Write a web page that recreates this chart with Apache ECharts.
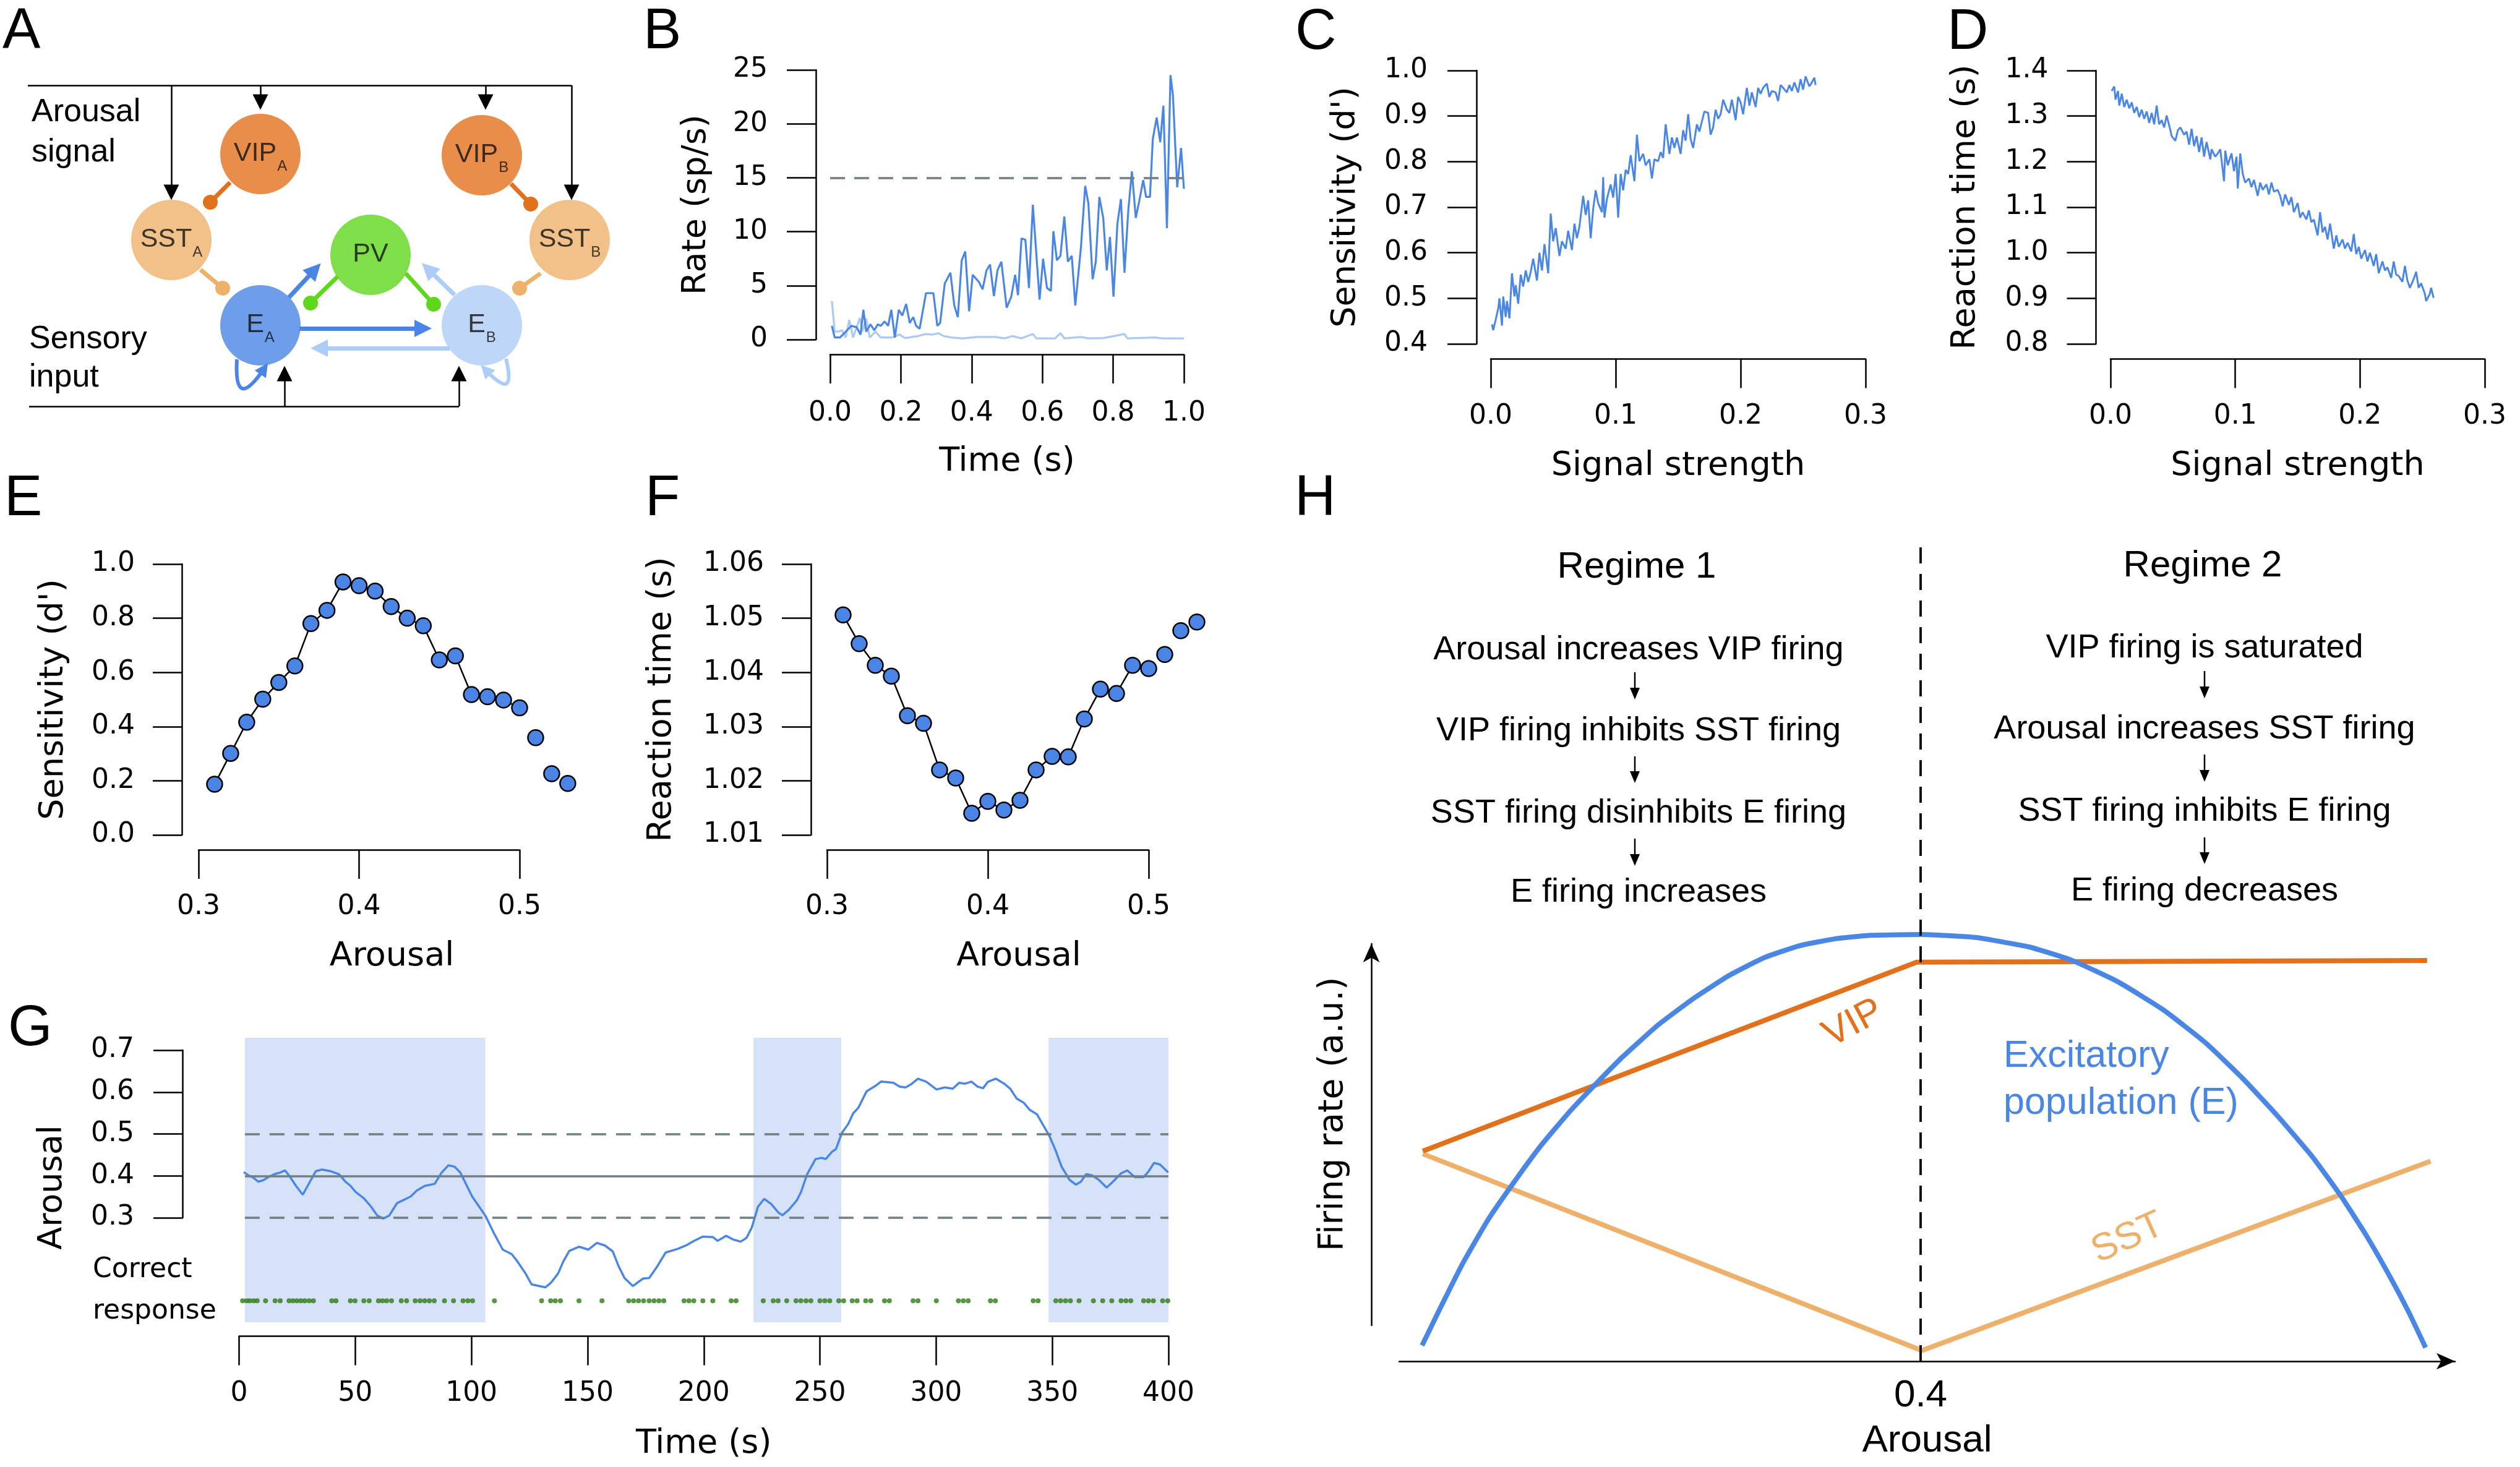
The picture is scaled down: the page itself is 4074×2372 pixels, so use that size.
<!DOCTYPE html>
<html><head><meta charset="utf-8">
<script src="https://cdn.jsdelivr.net/npm/echarts@6/dist/echarts.min.js"></script>
<style>html,body{margin:0;padding:0;background:#fff}#c{width:4074px;height:2372px}</style>
</head><body><div id="c"></div>
<script>
// ---------------- DATA ----------------
// Panel A: circuit nodes (diagram positions, px) and connections
const circuitNodes = [
  {name:'VIP', sub:'A', x:421, y:249, kind:'VIP'},
  {name:'VIP', sub:'B', x:779, y:251, kind:'VIP'},
  {name:'SST', sub:'A', x:277, y:388, kind:'SST'},
  {name:'SST', sub:'B', x:921, y:388, kind:'SST'},
  {name:'PV',  sub:'',  x:599, y:412, kind:'PV'},
  {name:'E',   sub:'A', x:421, y:526, kind:'EA'},
  {name:'E',   sub:'B', x:779, y:526, kind:'EB'}
];
const busLines = [[[45,138],[924,138]], [[47,657],[742,657]]];
const driveArrows = [[[277,138],[277,311]], [[421,138],[421,165]], [[785,138],[785,165]], [[924,138],[924,311]], [[460,657],[460,604]], [[742,657],[742,604]]];
const exciteArrows = [
  {from:[467,481], to:[509,436], kind:'EA'},
  {from:[735,477], to:[692,435], kind:'EB'},
  {from:[484,531], to:[684,531], kind:'EA'},
  {from:[727,563], to:[516,563], kind:'EB'}
];
const inhibitLinks = [
  {from:[372,295], to:[340,327], kind:'VIP'},
  {from:[826,297], to:[858,330], kind:'VIP'},
  {from:[324,436], to:[360,466], kind:'SST'},
  {from:[874,442], to:[840,466], kind:'SST'},
  {from:[546,447], to:[502,490], kind:'PV'},
  {from:[656,442], to:[701,492], kind:'PV'}
];
const selfLoopA = [[383,581],[427,596]];
const selfLoopB = [[818,580],[785,598]];

// Panel B
const bRateFast = [[0.005,1.27],[0.013,0.19],[0.028,0.19],[0.044,0.73],[0.060,1.27],[0.075,1.14],[0.086,0.46],[0.094,2.76],[0.102,0.73],[0.114,1.41],[0.125,0.86],[0.135,1.41],[0.143,1.27],[0.154,1.68],[0.164,1.27],[0.173,2.76],[0.183,0.19],[0.194,2.76],[0.204,2.22],[0.215,3.30],[0.225,1.54],[0.235,2.08],[0.243,1.27],[0.253,1.00],[0.271,4.30],[0.292,4.30],[0.303,1.27],[0.311,1.54],[0.324,5.19],[0.340,6.19],[0.351,3.16],[0.361,2.08],[0.372,7.35],[0.382,8.16],[0.393,2.62],[0.403,6.00],[0.421,5.32],[0.431,4.65],[0.442,6.41],[0.452,6.95],[0.463,4.03],[0.473,6.41],[0.484,7.22],[0.499,2.95],[0.512,3.97],[0.523,6.00],[0.531,4.11],[0.541,9.38],[0.552,9.24],[0.562,4.78],[0.573,12.49],[0.592,3.70],[0.602,7.49],[0.613,4.78],[0.624,4.51],[0.631,10.05],[0.641,7.35],[0.651,7.76],[0.662,11.41],[0.672,7.22],[0.683,7.76],[0.693,3.16],[0.709,8.57],[0.721,14.24],[0.730,12.62],[0.742,5.59],[0.751,7.22],[0.761,13.22],[0.772,11.27],[0.782,6.41],[0.791,9.51],[0.801,3.97],[0.812,10.73],[0.822,13.03],[0.832,6.19],[0.843,12.08],[0.853,15.59],[0.864,11.27],[0.874,12.89],[0.885,14.78],[0.893,13.22],[0.904,13.22],[0.912,18.57],[0.923,20.59],[0.933,18.30],[0.942,21.68],[0.952,10.32],[0.962,24.51],[0.969,22.62],[0.981,14.11],[0.992,17.76],[1.000,13.97]];
const bRateSlow = [[0.005,3.57],[0.013,0.73],[0.023,0.73],[0.034,0.86],[0.044,0.19],[0.054,1.81],[0.065,0.19],[0.084,2.0],[0.091,0.73],[0.102,1.95],[0.112,0.19],[0.128,0.73],[0.143,0.19],[0.175,0.19],[0.196,0.46],[0.212,0.14],[0.248,0.32],[0.269,0.51],[0.290,0.46],[0.306,0.59],[0.321,0.32],[0.342,0.19],[0.374,0.11],[0.416,0.24],[0.468,0.24],[0.494,0.11],[0.515,0.32],[0.541,0.11],[0.573,0.51],[0.583,0.11],[0.636,0.11],[0.651,0.59],[0.662,0.11],[0.709,0.24],[0.730,0.11],[0.772,0.14],[0.832,0.51],[0.840,0.11],[0.918,0.19],[0.939,0.11],[1.000,0.11]];
const bThreshold = 15;

// Panel C
const cSensitivity = [[0.001,0.443],[0.002,0.430],[0.004,0.453],[0.006,0.478],[0.007,0.500],[0.009,0.440],[0.010,0.504],[0.012,0.459],[0.013,0.494],[0.015,0.456],[0.017,0.555],[0.019,0.504],[0.020,0.529],[0.022,0.488],[0.024,0.552],[0.026,0.526],[0.028,0.561],[0.030,0.536],[0.032,0.558],[0.034,0.587],[0.037,0.539],[0.039,0.600],[0.041,0.561],[0.043,0.619],[0.046,0.555],[0.048,0.686],[0.050,0.625],[0.052,0.654],[0.055,0.593],[0.057,0.625],[0.060,0.609],[0.062,0.648],[0.065,0.606],[0.067,0.664],[0.069,0.632],[0.071,0.657],[0.074,0.725],[0.076,0.683],[0.078,0.715],[0.080,0.632],[0.082,0.696],[0.084,0.737],[0.086,0.709],[0.089,0.689],[0.090,0.766],[0.091,0.677],[0.093,0.718],[0.096,0.750],[0.098,0.721],[0.100,0.773],[0.102,0.677],[0.104,0.773],[0.106,0.737],[0.108,0.782],[0.110,0.773],[0.112,0.814],[0.115,0.757],[0.117,0.859],[0.119,0.801],[0.122,0.817],[0.124,0.792],[0.127,0.805],[0.129,0.763],[0.131,0.805],[0.134,0.801],[0.136,0.821],[0.138,0.808],[0.140,0.882],[0.143,0.817],[0.145,0.853],[0.147,0.830],[0.149,0.853],[0.152,0.817],[0.154,0.869],[0.156,0.846],[0.158,0.904],[0.160,0.850],[0.162,0.830],[0.165,0.882],[0.167,0.866],[0.169,0.888],[0.171,0.910],[0.174,0.907],[0.176,0.859],[0.178,0.875],[0.180,0.914],[0.182,0.894],[0.184,0.904],[0.186,0.936],[0.189,0.914],[0.191,0.907],[0.193,0.936],[0.196,0.891],[0.198,0.942],[0.200,0.930],[0.202,0.904],[0.205,0.962],[0.207,0.923],[0.209,0.952],[0.212,0.920],[0.214,0.962],[0.216,0.949],[0.218,0.962],[0.221,0.971],[0.223,0.942],[0.225,0.955],[0.228,0.952],[0.230,0.933],[0.232,0.968],[0.234,0.962],[0.237,0.952],[0.239,0.968],[0.241,0.955],[0.243,0.974],[0.246,0.952],[0.248,0.981],[0.250,0.958],[0.252,0.987],[0.255,0.965],[0.257,0.974],[0.259,0.984],[0.260,0.968]];

// Panel D
const dReaction = [[0.001,1.355],[0.003,1.365],[0.004,1.336],[0.006,1.355],[0.007,1.323],[0.009,1.349],[0.011,1.320],[0.013,1.336],[0.015,1.317],[0.017,1.330],[0.019,1.307],[0.021,1.320],[0.023,1.298],[0.025,1.314],[0.027,1.294],[0.029,1.310],[0.031,1.285],[0.033,1.307],[0.035,1.282],[0.037,1.323],[0.039,1.282],[0.041,1.291],[0.043,1.275],[0.045,1.301],[0.048,1.269],[0.049,1.256],[0.052,1.246],[0.054,1.269],[0.056,1.275],[0.059,1.259],[0.061,1.266],[0.063,1.237],[0.065,1.272],[0.067,1.234],[0.069,1.256],[0.071,1.221],[0.073,1.253],[0.075,1.211],[0.077,1.243],[0.080,1.205],[0.081,1.227],[0.084,1.211],[0.086,1.218],[0.088,1.227],[0.091,1.157],[0.092,1.224],[0.094,1.192],[0.097,1.218],[0.099,1.179],[0.101,1.211],[0.102,1.141],[0.104,1.218],[0.106,1.173],[0.108,1.154],[0.111,1.163],[0.113,1.144],[0.115,1.160],[0.118,1.125],[0.120,1.154],[0.122,1.138],[0.125,1.150],[0.127,1.128],[0.129,1.154],[0.131,1.134],[0.134,1.138],[0.136,1.125],[0.138,1.102],[0.140,1.128],[0.143,1.105],[0.145,1.122],[0.147,1.089],[0.150,1.109],[0.152,1.077],[0.154,1.089],[0.157,1.073],[0.159,1.093],[0.161,1.067],[0.163,1.073],[0.166,1.038],[0.168,1.089],[0.170,1.045],[0.172,1.057],[0.174,1.029],[0.176,1.064],[0.179,1.009],[0.181,1.038],[0.183,1.013],[0.186,1.029],[0.188,1.009],[0.190,1.022],[0.193,1.003],[0.195,1.041],[0.197,0.997],[0.199,1.013],[0.201,0.987],[0.204,1.006],[0.206,0.981],[0.208,1.000],[0.211,0.971],[0.213,0.997],[0.215,0.955],[0.218,0.981],[0.220,0.961],[0.222,0.968],[0.225,0.945],[0.227,0.981],[0.229,0.952],[0.231,0.949],[0.234,0.936],[0.236,0.971],[0.238,0.939],[0.240,0.923],[0.243,0.942],[0.245,0.958],[0.247,0.923],[0.249,0.933],[0.252,0.910],[0.253,0.894],[0.256,0.910],[0.257,0.923],[0.259,0.901]];

// Panels E, F
const arousalLevels = [0.31,0.32,0.33,0.34,0.35,0.36,0.37,0.38,0.39,0.40,0.41,0.42,0.43,0.44,0.45,0.46,0.47,0.48,0.49,0.50,0.51,0.52,0.53];
const eSensitivity = [0.187,0.301,0.416,0.501,0.563,0.624,0.780,0.829,0.934,0.920,0.900,0.843,0.800,0.772,0.646,0.661,0.518,0.510,0.498,0.469,0.359,0.226,0.190];
const fReaction = [1.0506,1.0453,1.0413,1.0393,1.0320,1.0306,1.0220,1.0205,1.0140,1.0162,1.0146,1.0164,1.0220,1.0245,1.0244,1.0314,1.0369,1.0361,1.0413,1.0407,1.0433,1.0477,1.0493];

// Panel G
const gTrace = [[2.0,0.409],[4.1,0.401],[5.8,0.397],[8.3,0.386],[10.6,0.390],[12.6,0.397],[15.2,0.404],[17.7,0.408],[19.8,0.413],[22.0,0.397],[24.5,0.376],[27.4,0.355],[30.5,0.386],[33.0,0.411],[35.6,0.415],[39.5,0.411],[43.0,0.404],[45.8,0.386],[48.0,0.376],[50.1,0.362],[53.8,0.346],[56.9,0.326],[59.5,0.305],[62.0,0.298],[64.6,0.305],[68.0,0.335],[71.4,0.344],[73.9,0.351],[76.5,0.365],[79.9,0.376],[84.2,0.381],[87.2,0.408],[90.1,0.425],[92.7,0.422],[95.2,0.408],[97.8,0.379],[100.3,0.351],[102.9,0.330],[106.0,0.305],[109.7,0.263],[113.5,0.224],[117.4,0.213],[119.9,0.195],[123.3,0.167],[125.9,0.141],[129.3,0.137],[131.9,0.134],[134.4,0.146],[137.3,0.167],[139.5,0.195],[142.1,0.221],[146.3,0.231],[150.3,0.224],[154.0,0.240],[157.4,0.234],[160.8,0.220],[163.3,0.185],[165.9,0.156],[169.5,0.137],[173.9,0.155],[176.5,0.156],[180.1,0.185],[183.6,0.217],[188.9,0.226],[192.4,0.234],[195.9,0.245],[199.5,0.255],[203.9,0.254],[206.0,0.245],[209.6,0.257],[212.7,0.248],[215.9,0.243],[218.4,0.252],[220.7,0.277],[223.3,0.326],[226.0,0.345],[229.0,0.333],[232.2,0.312],[233.9,0.306],[236.6,0.319],[240.1,0.342],[241.9,0.362],[244.5,0.404],[248.1,0.440],[250.7,0.443],[252.5,0.440],[255.1,0.457],[256.9,0.464],[259.5,0.503],[262.2,0.524],[264.3,0.549],[266.6,0.563],[270.1,0.602],[274.5,0.617],[276.3,0.625],[281.6,0.622],[284.3,0.613],[286.9,0.611],[289.6,0.620],[292.2,0.632],[295.7,0.625],[300.2,0.606],[303.7,0.611],[307.2,0.608],[309.9,0.622],[312.5,0.620],[315.2,0.625],[317.8,0.613],[320.2,0.609],[322.2,0.624],[325.7,0.632],[329.3,0.620],[331.9,0.608],[334.6,0.585],[337.8,0.574],[340.2,0.558],[343.4,0.547],[346.1,0.521],[348.7,0.496],[351.4,0.461],[354.0,0.422],[357.5,0.390],[360.2,0.379],[362.3,0.386],[364.6,0.404],[367.2,0.401],[369.9,0.391],[373.4,0.372],[376.1,0.386],[379.6,0.406],[382.3,0.413],[385.5,0.397],[389.3,0.397],[391.5,0.411],[393.8,0.431],[396.4,0.427],[399.9,0.408]];
const gCorrectTimes = [1.5,3.2,4.6,6.3,7.8,11.4,15.5,17.7,21.5,23.2,24.9,26.6,28.3,30.2,32.0,39.9,41.7,47.9,49.9,53.7,56.0,60.0,61.7,63.5,65.6,69.8,72.1,75.8,77.9,79.9,81.9,84.0,88.4,92.3,96.4,98.5,100.5,109.9,130.2,134.1,136.1,138.3,146.3,156.2,167.7,169.8,171.9,174.1,176.5,178.6,180.7,182.8,191.5,193.6,195.7,199.6,203.9,211.8,213.9,225.6,229.9,232.0,235.7,239.7,241.8,244.0,246.1,250.0,252.1,254.2,258.1,260.2,263.9,266.0,269.7,271.9,277.8,279.9,290.1,292.2,300.1,309.6,311.7,313.8,323.4,325.5,341.8,343.9,351.5,353.6,355.7,357.8,361.5,367.7,371.7,375.6,379.6,381.7,383.8,389.3,391.4,393.5,397.5,399.7];
const gCorrectLevel = 0.102;
const gShaded = [[2.5,106],[221.4,259.2],[348.4,400]];
const gOptimum = 0.4, gBand = [0.3, 0.5];

// Panel H (schematic curves, arbitrary units)
const hExcitatory = [[0.1985,0.037],[0.2064,0.131],[0.2150,0.230],[0.2250,0.330],[0.2351,0.415],[0.2465,0.505],[0.2580,0.584],[0.2681,0.646],[0.2795,0.713],[0.2939,0.788],[0.3082,0.850],[0.3226,0.904],[0.3369,0.946],[0.3513,0.974],[0.3656,0.990],[0.3800,0.998],[0.4001,1.000],[0.4221,0.993],[0.4437,0.971],[0.4609,0.940],[0.4795,0.890],[0.4982,0.823],[0.5154,0.745],[0.5298,0.665],[0.5441,0.576],[0.5585,0.478],[0.5699,0.387],[0.5800,0.296],[0.5900,0.195],[0.5972,0.116],[0.6041,0.032]];
const hVIP = [[0.1988,0.4925],[0.3984,0.935],[0.6047,0.939]];
const hSST = [[0.1988,0.486],[0.4005,0.025],[0.6061,0.469]];
const hRegime1 = ['Arousal increases VIP firing','VIP firing inhibits SST firing','SST firing disinhibits E firing','E firing increases'];
const hRegime2 = ['VIP firing is saturated','Arousal increases SST firing','SST firing inhibits E firing','E firing decreases'];

// ---------------- STYLE ----------------
const DV = 'DejaVu Sans', LS = 'Liberation Sans';
const BLUE = '#4A86E3', LIGHT = '#ABC9F1', REF = '#6F7F82', SHADE = '#D6E2F7', GREEN = '#2F7A18';
const KC = {VIP:'#E2711D', SST:'#EDB16C', PV:'#5ED71D', EA:'#4A85E5', EB:'#AECDF6'};

function mkAxis(gi, min, max, step, offset, dec, margin, name, gap, namePad) {
  return {
    type:'value', gridIndex:gi, min:min, max:max, interval:step, offset:offset,
    axisLine:{show:true, onZero:false, lineStyle:{color:'#000', width:2.5}},
    axisTick:{show:true, inside:false, length:47, lineStyle:{color:'#000', width:2.5}},
    axisLabel:{show:true, margin:margin, color:'#000', fontFamily:DV, fontSize:44, hideOverlap:false,
               formatter: v => Number(v).toFixed(dec)},
    splitLine:{show:false},
    name:name, nameLocation:'middle', nameGap:gap, nameMoveOverlap:false,
    nameTextStyle:{color:'#000', fontFamily:DV, fontSize:54, padding: namePad || 0}
  };
}
function hidden(gi, min, max, inverse) {
  return {type:'value', gridIndex:gi, min:min, max:max, inverse:!!inverse, show:false,
          axisLine:{show:false}, axisTick:{show:false}, axisLabel:{show:false}, splitLine:{show:false}};
}
function grid(l, t, w, h) { return {left:l, top:t, width:w, height:h, containLabel:false, outerBoundsMode:'none'}; }

const xAxes = [
  hidden(0, 0, 1240),
  mkAxis(1, 0, 1, 0.2, 24, 1, 74, 'Time (s)', 147),
  mkAxis(2, 0, 0.3, 0.1, 24.5, 1, 71, 'Signal strength', 146),
  mkAxis(3, 0, 0.3, 0.1, 24.5, 1, 71, 'Signal strength', 146),
  mkAxis(4, 0.3, 0.5, 0.1, 24, 1, 71, 'Arousal', 146, [0,0,0,106]),
  mkAxis(5, 0.3, 0.5, 0.1, 24, 1, 71, 'Arousal', 146, [0,0,0,100]),
  mkAxis(6, 0, 400, 50, 22.5, 0, 71, 'Time (s)', 147),
  hidden(7, 0, 1),
  {type:'value', gridIndex:8, min:0.18925, max:0.616,
   axisLine:{show:true, onZero:false, symbol:['none','arrow'], symbolSize:[20,30], lineStyle:{color:'#000', width:2.5}},
   axisTick:{show:false}, splitLine:{show:false},
   axisLabel:{show:true, customValues:[0.4], formatter: v => Number(v).toFixed(1), margin:25, fontFamily:LS, fontSize:62, color:'#000'},
   name:'Arousal', nameLocation:'middle', nameGap:98, nameMoveOverlap:false,
   nameTextStyle:{fontFamily:LS, fontSize:62, color:'#000'}},
  hidden(9, 0, 1)
];
const yAxes = [
  hidden(0, 0, 680, true),
  mkAxis(1, 0, 25, 5, 23, 0, 78, 'Rate (sp/s)', 166),
  mkAxis(2, 0.4, 1.0, 0.1, 23, 1, 79, "Sensitivity (d')", 184),
  mkAxis(3, 0.8, 1.4, 0.1, 23.5, 1, 77, 'Reaction time (s)', 184),
  mkAxis(4, 0, 1, 0.2, 27, 1, 76, "Sensitivity (d')", 180),
  mkAxis(5, 1.01, 1.06, 0.01, 26, 2, 76, 'Reaction time (s)', 214),
  hidden(6, 0.0506, 0.7295),
  mkAxis(7, 0.3, 0.7, 0.1, 0, 1, 78, '', 0),
  hidden(8, 0, 1.9275),
  {type:'value', gridIndex:9, min:0, max:1,
   axisLine:{show:true, onZero:false, symbol:['none','arrow'], symbolSize:[20,30], lineStyle:{color:'#000', width:2.5}},
   axisTick:{show:false}, axisLabel:{show:false}, splitLine:{show:false},
   name:'Firing rate (a.u.)', nameLocation:'middle', nameGap:34, nameMoveOverlap:false,
   nameTextStyle:{fontFamily:DV, fontSize:55, color:'#000', padding:[0,0,0,66]}}
];
const grids = [
  grid(0, 0, 1240, 680),
  grid(1342, 113, 572, 436),
  grid(2410, 114, 606, 442),
  grid(3412, 114, 605, 442),
  grid(321, 912, 519, 438),
  grid(1337, 912, 520, 438),
  grid(386.5, 1678, 1502.5, 460),
  grid(295, 1698, 10, 271),
  grid(2262, 871, 1707, 1330),
  grid(2217, 1526, 10, 617)
];

// ---------------- SERIES ----------------
const A = {xAxisIndex:0, yAxisIndex:0};
const series = [];
// Panel A
series.push(Object.assign({type:'lines', coordinateSystem:'cartesian2d', silent:true, z:3, symbol:['none','none'],
  lineStyle:{color:'#000', width:2.5, opacity:1}, data: busLines.map(c => ({coords:c}))}, A));
series.push(Object.assign({type:'lines', coordinateSystem:'cartesian2d', silent:true, z:3, symbol:['none','triangle'], symbolSize:25,
  lineStyle:{color:'#000', width:2.5, opacity:1}, data: driveArrows.map(c => ({coords:c}))}, A));
series.push(Object.assign({type:'lines', coordinateSystem:'cartesian2d', silent:true, z:3, symbol:['none','triangle'], symbolSize:28,
  lineStyle:{width:7, opacity:1}, data: exciteArrows.map(e => ({coords:[e.from, e.to], lineStyle:{color:KC[e.kind], width:7, opacity:1}}))}, A));
series.push(Object.assign({type:'lines', coordinateSystem:'cartesian2d', silent:true, z:3, symbol:['none','circle'], symbolSize:24,
  lineStyle:{width:7, opacity:1}, data: inhibitLinks.map(e => ({coords:[e.from, e.to], lineStyle:{color:KC[e.kind], width:7, opacity:1}}))}, A));
series.push(Object.assign({type:'lines', coordinateSystem:'cartesian2d', silent:true, z:3, symbol:['none','triangle'], symbolSize:22,
  lineStyle:{color:KC.EA, width:6, opacity:1, curveness:-1.8}, data:[{coords:selfLoopA}]}, A));
series.push(Object.assign({type:'lines', coordinateSystem:'cartesian2d', silent:true, z:3, symbol:['none','triangle'], symbolSize:22,
  lineStyle:{color:KC.EB, width:6, opacity:1, curveness:1.9}, data:[{coords:selfLoopB}]}, A));
series.push(Object.assign({type:'scatter', silent:true, z:5, symbolSize:130,
  data: circuitNodes.map(n => ({value:[n.x, n.y], itemStyle:{color:KC[n.kind]},
    label:{show:true, position:'inside', formatter: n.sub ? '{m|' + n.name + '}{s|' + n.sub + '}' : '{m|' + n.name + '}'}})),
  label:{show:true, position:'inside', rich:{
    m:{fontFamily:LS, fontSize:43, color:'#111', lineHeight:44, verticalAlign:'top'},
    s:{fontFamily:LS, fontSize:24, color:'#111', lineHeight:24, verticalAlign:'top', padding:[30,0,0,1]}}}}, A));

// Panel B
series.push({type:'line', xAxisIndex:1, yAxisIndex:1, data:bRateSlow, symbol:'none', z:2, lineStyle:{color:LIGHT, width:3.2}});
series.push({type:'line', xAxisIndex:1, yAxisIndex:1, data:bRateFast, symbol:'none', z:3, lineStyle:{color:BLUE, width:3.2},
  markLine:{silent:true, symbol:['none','none'], label:{show:false}, lineStyle:{color:REF, type:[24,15], width:3.5},
    data:[[{coord:[0, bThreshold]}, {coord:[1, bThreshold]}]]}});
// Panel C, D
series.push({type:'line', xAxisIndex:2, yAxisIndex:2, data:cSensitivity, symbol:'none', lineStyle:{color:BLUE, width:3}});
series.push({type:'line', xAxisIndex:3, yAxisIndex:3, data:dReaction, symbol:'none', lineStyle:{color:BLUE, width:3}});
// Panel E, F
const dotStyle = {color:KC.EA, borderColor:'#000', borderWidth:2.5};
series.push({type:'line', xAxisIndex:4, yAxisIndex:4, clip:false, data: arousalLevels.map((a,i) => [a, eSensitivity[i]]),
  symbol:'circle', symbolSize:25, showSymbol:true, itemStyle:dotStyle, lineStyle:{color:'#000', width:2.5}});
series.push({type:'line', xAxisIndex:5, yAxisIndex:5, clip:false, data: arousalLevels.map((a,i) => [a, fReaction[i]]),
  symbol:'circle', symbolSize:25, showSymbol:true, itemStyle:dotStyle, lineStyle:{color:'#000', width:2.5}});
// Panel G
series.push({type:'line', xAxisIndex:6, yAxisIndex:6, data:gTrace, symbol:'none', z:3, lineStyle:{color:BLUE, width:3.5},
  markArea:{silent:true, itemStyle:{color:SHADE}, data: gShaded.map(s => [{xAxis:s[0]}, {xAxis:s[1]}])},
  markLine:{silent:true, symbol:['none','none'], label:{show:false}, lineStyle:{color:REF, width:3.5},
    data:[
      [{coord:[2.5, gBand[1]], lineStyle:{type:[24,16], color:REF, width:3.5}}, {coord:[400, gBand[1]]}],
      [{coord:[2.5, gOptimum], lineStyle:{type:'solid', color:REF, width:3.5}}, {coord:[400, gOptimum]}],
      [{coord:[2.5, gBand[0]], lineStyle:{type:[24,16], color:REF, width:3.5}}, {coord:[400, gBand[0]]}]
    ]}});
series.push({type:'scatter', xAxisIndex:6, yAxisIndex:6, z:4, silent:true, symbolSize:8, itemStyle:{color:GREEN},
  data: gCorrectTimes.map(t => [t, gCorrectLevel])});
// Panel H
series.push({type:'line', xAxisIndex:8, yAxisIndex:8, data:hSST, symbol:'none', z:2, lineStyle:{color:KC.SST, width:8},
  markLine:{silent:true, symbol:['none','none'], label:{show:false}, lineStyle:{color:'#111', type:[26,17], width:4},
    data:[[{coord:[0.4, 0]}, {coord:[0.4, 1.9275]}]]}});
series.push({type:'line', xAxisIndex:8, yAxisIndex:8, data:hVIP, symbol:'none', z:3, lineStyle:{color:KC.VIP, width:8}});
series.push({type:'line', xAxisIndex:8, yAxisIndex:8, data:hExcitatory, smooth:0.15, symbol:'none', z:4, lineStyle:{color:BLUE, width:8}});

// ---------------- TEXT (graphic) ----------------
function txt(x, y, text, font, align, extra) {
  const st = {text:text, font:font, fill:'#000', textAlign:align||'center', align:align||'center',
              textVerticalAlign:'middle', verticalAlign:'middle'};
  const el = {type:'text', x:x, y:y, silent:true, style:st};
  if (extra) { if (extra.style) Object.assign(st, extra.style); if (extra.rotation) el.rotation = extra.rotation; }
  return el;
}
function downArrow(x, y1, y2) {
  return [{type:'line', silent:true, shape:{x1:x, y1:y1, x2:x, y2:y2-14}, style:{stroke:'#000', lineWidth:2.5}},
          {type:'polygon', silent:true, shape:{points:[[x-8, y2-19],[x+8, y2-19],[x, y2]]}, style:{fill:'#000'}}];
}
const PL = 'normal 92px "Liberation Sans"';
const g = [
  txt(4, 53, 'A', PL, 'left'), txt(1040, 53, 'B', PL, 'left'), txt(2094, 54, 'C', PL, 'left'), txt(3148, 54, 'D', PL, 'left'),
  txt(7, 808, 'E', PL, 'left'), txt(1043, 808, 'F', PL, 'left'), txt(13, 1665, 'G', PL, 'left'), txt(2093, 808, 'H', PL, 'left'),
  txt(51, 214.5, 'Arousal\nsignal', 'normal 52px "Liberation Sans"', 'left', {style:{lineHeight:65}}),
  txt(47, 580, 'Sensory\ninput', 'normal 52px "Liberation Sans"', 'left', {style:{lineHeight:62}}),
  txt(84.5, 1920, 'Arousal', 'normal 54px "DejaVu Sans"', 'center', {rotation:Math.PI/2}),
  txt(150, 2087.5, 'Correct\nresponse', 'normal 44px "DejaVu Sans"', 'left', {style:{lineHeight:67}}),
  txt(2646, 917, 'Regime 1', 'normal 60px "Liberation Sans"'),
  txt(3561, 915, 'Regime 2', 'normal 60px "Liberation Sans"'),
  txt(2996, 1655, 'VIP', 'normal 62px "Liberation Sans"', 'center', {rotation:28*Math.PI/180, style:{fill:KC.VIP}}),
  txt(3440, 2002, 'SST', 'normal 62px "Liberation Sans"', 'center', {rotation:24*Math.PI/180, style:{fill:KC.SST}}),
  txt(3239, 1746, 'Excitatory\npopulation (E)', 'normal 61px "Liberation Sans"', 'left', {style:{fill:BLUE, lineHeight:76}})
];
const r1y = [1051, 1182, 1315, 1443], r2y = [1048, 1179, 1312, 1441];
hRegime1.forEach((s, i) => g.push(txt(2649, r1y[i], s, 'normal 54px "Liberation Sans"')));
hRegime2.forEach((s, i) => g.push(txt(3564, r2y[i], s, 'normal 54px "Liberation Sans"')));
[[1087,1131],[1223,1266],[1356,1400]].forEach(a => g.push(...downArrow(2643, a[0], a[1])));
[[1085,1129],[1220,1264],[1354,1397]].forEach(a => g.push(...downArrow(3564, a[0], a[1])));

const chart = echarts.init(document.getElementById('c'), null, {renderer:'canvas', width:4074, height:2372});
chart.setOption({
  backgroundColor:'#fff', animation:false,
  grid:grids, xAxis:xAxes, yAxis:yAxes, series:series,
  graphic:{elements:g}
});
</script></body></html>
